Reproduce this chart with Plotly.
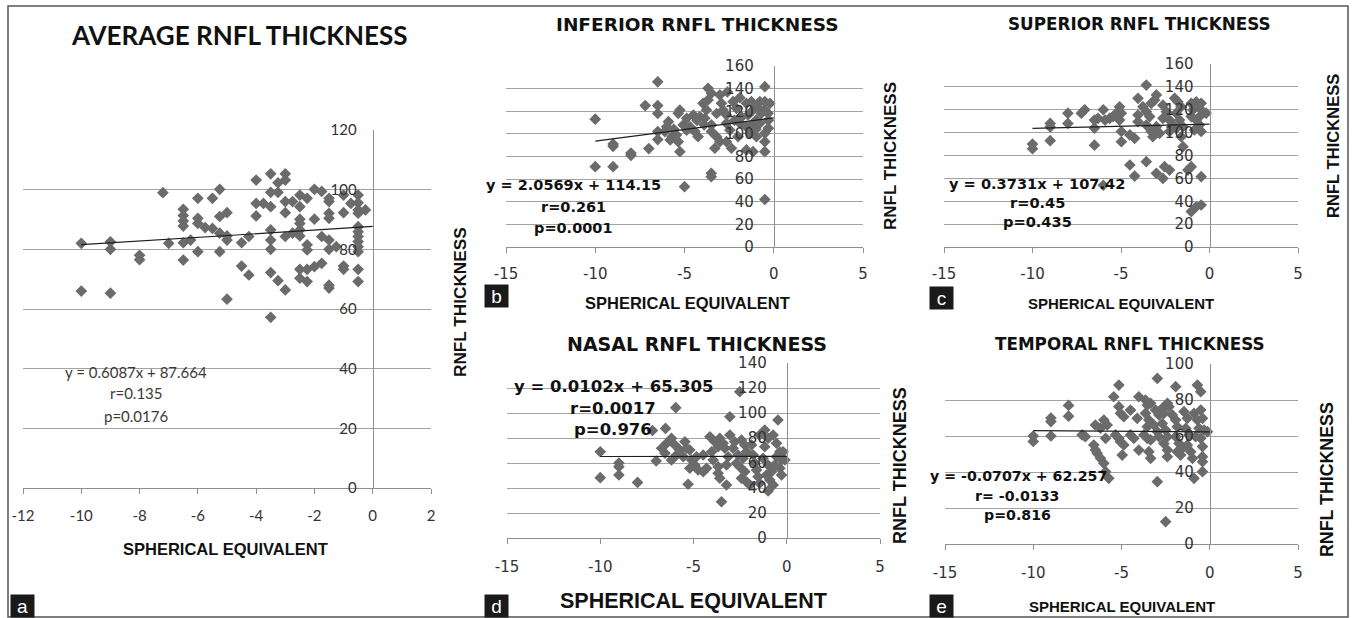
import plotly.graph_objects as go

W, H = 1354, 618

# ---------------- DATA ----------------
avg_pts = [(-10,82),(-10,66),(-9,82.5),(-9,80),(-9,65.3),(-8,78),(-8,76.5),(-7.2,99),(-7,82),
    (-6.5,93.4),(-6.5,91.3),(-6.5,89.5),(-6.5,87.8),(-6.5,82.2),(-6.5,76.4),(-6.25,83.1),
    (-6,97.1),(-6,90.4),(-6,88.7),(-6,79.2),(-5.75,87.3),(-5.5,87),(-5.5,97.1),
    (-5.25,100.1),(-5.25,91),(-5.25,85.4),(-5.25,79.2),(-5,92.3),(-5,84.5),(-5,83.1),(-5,63.3),
    (-4.5,82.2),(-4.25,84.3),(-4.5,74.4),(-4.25,71.4),
    (-4,103.2),(-4,95.4),(-3.75,95.4),(-4,91.2),
    (-3.5,105.3),(-3.5,99.1),(-3.5,94.3),(-3.5,86.5),(-3.5,83.1),(-3.5,80),(-3.5,72.2),(-3.5,57.2),
    (-3.25,69.5),(-3.25,99.1),(-3.25,102.3),
    (-3,66.4),(-3,105.3),(-3,103.2),(-3,96),(-3,92.3),(-3,84.3),
    (-2.75,96),(-2.75,85.4),
    (-2.5,98.2),(-2.5,94.3),(-2.5,90.1),(-2.5,88.7),(-2.5,86.5),(-2.5,84.5),(-2.5,73.3),(-2.5,70.3),
    (-2.25,97.1),(-2.25,73.3),(-2.25,69.2),(-2.25,81.5),(-2.25,79.8),
    (-2,100.1),(-2,90.1),(-2,74.2),
    (-1.75,75.3),(-1.75,99.4),(-1.75,84.3),
    (-1.5,97.1),(-1.5,96),(-1.5,92.1),(-1.5,90.4),(-1.5,83.1),(-1.5,80),(-1.5,68),(-1.5,67),
    (-1.25,80.9),
    (-1,98.2),(-1,92.3),(-1,74.4),(-1,73.3),
    (-0.75,95.4),
    (-0.5,98.2),(-0.5,95.6),(-0.5,93.2),(-0.5,92.1),(-0.5,87.6),(-0.5,85.9),(-0.5,84.3),
    (-0.5,82.6),(-0.5,80.9),(-0.5,79.2),(-0.5,73.3),(-0.5,69.2),
    (-0.25,93.2)]

inf_pts = [(-10,113),(-10,71),(-9,71),(-9,91),(-9,89),(-8,83),(-8,81),(-7.2,125),(-7,87),
    (-6.5,146),(-6.5,125),(-6.5,118),(-6.5,102),(-6.5,95),(-6.1,102),(-6,106.4),(-5.9,110.8),
    (-5.7,97.5),(-5.8,94.6),(-5.35,118.2),(-5.26,121.1),(-5.45,99),(-5.35,93.1),(-5.26,84.3),
    (-5,53.3),(-5.07,107.9),(-4.88,103.4),(-4.7,106.4),(-4.88,113.8),(-4.5,116.7),(-4.42,102),
    (-4.24,97.5),(-4.14,115.2),(-3.86,113.8),(-3.68,140.3),(-3.49,135.9),(-3.68,130),(-3.96,127),
    (-3.77,121.1),(-3.5,65.2),(-3.5,62.2),(-3.3,87.3),(-3.49,107.9),(-3.49,102),(-3.2,97.5),
    (-3.02,93.1),(-3.02,134.4),(-2.93,127),(-2.84,121.1),(-2.65,116.7),(-2.65,109.4),(-2.46,103.4),
    (-2.65,93.1),(-2.28,128.5),(-2.09,122.6),(-1.9,109.4),(-2,97.5),(-2.37,87.3),(-1.53,127),
    (-1.25,128.5),(-1.16,121.1),(-1.44,116.7),(-1.53,106.4),(-1.16,109.4),(-1.34,100.5),
    (-0.97,97.5),(-1.53,85.8),(-1.16,84.3),(-0.78,128.5),(-0.5,128.5),(-0.22,127),(-0.69,118.2),
    (-0.5,121.1),(-0.32,118.2),(-0.5,141.7),(-0.5,100.5),(-0.5,93.1),(-0.5,84.3),(-0.5,42),
    (-0.78,109.4),(-0.97,112.3),(-1.8,115),(-1.0,104),(-0.3,112),(-0.3,105),(-2.2,112),
    (-3.2,118),(-4.3,112),(-5.6,104),(-0.9,124),(-1.9,132),(-2.6,137),(-3.9,108)]

sup_pts = [(-10,90),(-10,86),(-9,108),(-9,105),(-9,93),(-8,117),(-8,108),(-7.24,117),(-7.05,120),
    (-6.5,111),(-6.5,104),(-6.5,89),(-6.3,112.5),(-6,120),(-5.9,111),(-5.64,112.5),(-5.45,114),
    (-5.26,117),(-5.08,122.6),(-4.98,117),(-5.08,111),(-4.98,101),(-4.98,92),(-4.5,98),(-4.23,95),
    (-4.5,71.7),(-4.23,62),(-4.04,130),(-4.04,115.4),(-4.04,109.5),(-3.57,141.6),(-3.57,74.6),
    (-3.76,122.6),(-3.57,118.3),(-3.38,114),(-3.29,125.6),(-3.1,128.5),(-3,133),(-3.57,106.6),
    (-3.29,101),(-3.2,96.4),(-3,105.2),(-2.82,99.4),(-3,64.4),(-2.63,60),(-2.54,70.2),(-2.26,67.3),
    (-2.63,124),(-2.44,118.3),(-2.63,112.5),(-2.26,111),(-2.07,106.6),(-2.26,101),(-1.97,130),
    (-1.79,127),(-1.6,122.6),(-1.88,117),(-1.69,111),(-1.88,103.8),(-1.5,105.2),(-1.6,96.4),
    (-1.5,87.7),(-1.22,67.3),(-1.03,70.2),(-1.03,31),(-0.75,35.2),(-0.47,36.7),(-0.47,61.5),
    (-1.03,125.6),(-0.94,119.8),(-0.75,127),(-0.56,121.2),(-0.47,125.6),(-1.03,114),(-0.75,111),
    (-0.47,115.4),(-0.19,117),(-0.56,106.6),(-0.47,101),(-0.85,102.3),(-6,54)]

nas_pts = [(-10,69),(-10,48.3),(-9,60),(-9,57),(-9,50.4),(-8,44.5),(-7.2,86),(-7,61.6),(-6.5,87.7),
    (-5.95,104.3),(-6.71,71.8),(-6.44,75.8),(-6.53,67.8),(-6.18,79.8),(-6,74.4),(-5.91,66.4),
    (-6.18,62.4),(-5.73,70.4),(-5.46,77),(-5.37,71.8),(-5.55,65),(-5.2,70.4),(-5.1,62.4),
    (-5.2,55.8),(-4.93,58.4),(-5.29,43),(-4.75,54.4),(-4.48,53.1),(-4.3,55.8),(-4.84,65),
    (-4.48,66.4),(-4.12,81),(-3.86,77),(-3.59,79.8),(-3.68,73),(-3.41,75.8),(-4.03,69),
    (-3.95,62.4),(-3.68,57),(-3.68,51.8),(-3.59,47.8),(-3.5,29),(-3.23,42.4),(-3.32,71.8),
    (-3.14,65),(-3.23,58.4),(-3.05,82.4),(-2.79,77),(-2.88,71.8),(-2.61,66.4),(-2.7,59.8),
    (-3.05,97),(-2.52,117),(-2.43,78.4),(-2.25,74.4),(-2.16,69),(-2.34,63.8),(-2.52,57),
    (-2.25,53.1),(-2.43,47.8),(-2.16,45),(-1.98,42.4),(-1.89,74.4),(-1.8,66.4),(-1.71,59.8),
    (-1.62,54.4),(-1.54,49),(-1.45,43.8),(-1.45,82.4),(-1.18,86.4),(-1,79.8),(-1.18,73),
    (-1.27,63.8),(-1,58.4),(-1.09,50.4),(-0.82,53.1),(-0.91,46.4),(-0.73,42.4),(-1,37.6),
    (-0.47,94.4),(-0.73,82.4),(-0.55,75.8),(-0.37,69),(-0.28,62.4),(-0.37,55.8),(-0.28,50.4),
    (-0.55,65),(-0.64,58.4),(-0.2,69),(-0.1,62.4)]

tem_pts = [(-10,60),(-10,57),(-9,70),(-9,68),(-9,60),(-8,77),(-8,71),(-7.23,60.6),(-7.05,59.6),
    (-6.57,55),(-6.48,52.2),(-6.38,50.4),(-6.19,47.6),(-6.48,66.1),(-6.19,64.3),(-6,44.8),
    (-5.9,40.2),(-5.72,36.5),(-6,68.9),(-5.81,66.1),(-5.9,58.7),(-5.44,81.8),(-5.15,88.3),
    (-5.15,76.3),(-5.06,72.6),(-4.87,70.7),(-5.34,60.6),(-5.15,58.7),(-5.06,56.8),(-4.87,55),
    (-4.96,49.4),(-4.49,74.4),(-4.11,69.8),(-4.49,60.6),(-4.3,58.7),(-4.02,52.2),(-4.02,81.8),
    (-3.64,80),(-3.54,77.2),(-3.35,78.2),(-3.64,72.6),(-3.45,68.9),(-3.54,65.2),(-3.73,60.6),
    (-3.54,58.7),(-3.35,57.8),(-3.45,51.3),(-3.35,47.6),(-3.16,66.1),(-2.97,62.4),(-2.88,59.6),
    (-2.97,34.6),(-2.97,92),(-3.07,74.4),(-2.88,71.7),(-2.69,75.4),(-2.6,72.6),(-2.69,67),
    (-2.5,63.3),(-2.4,59.6),(-2.6,55.9),(-2.4,52.2),(-2.4,48.5),(-2.5,12.4),(-2.4,78.2),
    (-2.31,76.3),(-1.93,87.4),(-2.12,71.7),(-1.93,68.9),(-1.84,65.2),(-1.93,59.6),(-1.74,55.9),
    (-1.84,51.3),(-1.65,49.4),(-1.55,53.2),(-1.46,73.5),(-1.27,69.8),(-1.36,64.3),(-1.18,60.6),
    (-1.27,55),(-1.08,51.3),(-0.98,47.6),(-0.89,36.5),(-0.7,88.3),(-0.51,84.6),(-0.89,72.6),
    (-0.7,68.9),(-0.51,74.4),(-0.41,69.8),(-0.61,64.3),(-0.32,63.3),(-0.51,58.7),(-0.8,59.6),
    (-0.41,54.1),(-0.41,48.5),(-0.41,45.7),(-0.41,40.2),(-0.13,62.4)]

# trend lines: slope, intercept, x start, x end
trend_slope = [0.6087, 2.0569, 0.3731, 0.0102, -0.0707]
trend_icpt = [87.664, 114.15, 107.42, 65.305, 62.257]
trend_x0 = [-10, -10, -10, -10, -10]
trend_x1 = [0, 0, 0, 0, 0]

titles = ["AVERAGE RNFL THICKNESS", "INFERIOR RNFL THICKNESS", "SUPERIOR RNFL THICKNESS",
          "NASAL RNFL THICKNESS", "TEMPORAL RNFL THICKNESS"]
eq_text = [["y = 0.6087x + 87.664", "r=0.135", "p=0.0176"],
           ["y = 2.0569x + 114.15", "r=0.261", "p=0.0001"],
           ["y = 0.3731x + 107.42", "r=0.45", "p=0.435"],
           ["y = 0.0102x + 65.305", "r=0.0017", "p=0.976"],
           ["y = -0.0707x + 62.257", "r= -0.0133", "p=0.816"]]
x_ranges = [[-12, 2], [-15, 5], [-15, 5], [-15, 5], [-15, 5]]
x_tickvals_a = [-12, -10, -8, -6, -4, -2, 0, 2]
x_ticktext_a = ["-12", "-10", "-8", "-6", "-4", "-2", "0", "2"]
x_tickvals_b = [-15, -10, -5, 0, 5]
x_ticktext_b = ["-15", "-10", "-5", "0", "5"]
y_tops = [120, 160, 160, 140, 100]
panel_letters = ["a", "b", "c", "d", "e"]
all_pts = [avg_pts, inf_pts, sup_pts, nas_pts, tem_pts]

# ---------------- LAYOUT (pixel geometry) ----------------
plot_px = [  # x0, x1, ytop, ybottom
    (23, 431, 130, 488),
    (506, 863, 66, 247),
    (944, 1298, 64, 247),
    (507, 880, 363, 538),
    (945, 1298, 364, 544),
]
fx = lambda px: px / W
fy = lambda py: 1 - py / H

GRID = "#a3a3a3"
AXL = "#8f8f8f"
MK = "#6b6b6b"
TXT = "#333333"
FA = "Lato, Calibri, sans-serif"
FB = "DejaVu Sans, Verdana, sans-serif"
FH = "Liberation Sans, Arial, sans-serif"

x_standoff = [9, 8, 8, 10, 10]
y_standoff = [13, 17, 13, 17, 13]

fig = go.Figure()
layout = {}
for i in range(5):
    s = "" if i == 0 else str(i + 1)
    x0, x1, yt, yb = plot_px[i]
    xr = x_ranges[i]
    zero_px = x0 + (0 - xr[0]) / (xr[1] - xr[0]) * (x1 - x0)
    pts = all_pts[i]
    fig.add_trace(go.Scatter(
        x=[p[0] for p in pts], y=[p[1] for p in pts], mode="markers",
        marker=dict(symbol="diamond", size=9, color=MK, line=dict(width=0)),
        xaxis="x" + s, yaxis="y" + s, showlegend=False, hoverinfo="x+y"))
    tx = [trend_x0[i], trend_x1[i]]
    fig.add_trace(go.Scatter(
        x=tx, y=[trend_slope[i] * v + trend_icpt[i] for v in tx], mode="lines",
        line=dict(color="#1e1e1e", width=1.2),
        xaxis="x" + s, yaxis="y" + s, showlegend=False, hoverinfo="skip"))
    tf = dict(family=FA, size=15, color=TXT) if i == 0 else dict(family=FB, size=15, color=TXT)
    tv = x_tickvals_a if i == 0 else x_tickvals_b
    tt = x_ticktext_a if i == 0 else x_ticktext_b
    layout["xaxis" + s] = dict(
        domain=[fx(x0), fx(x1)], range=xr, tickmode="array", tickvals=tv, ticktext=tt,
        showgrid=False, zeroline=False, showline=True, linecolor=AXL, linewidth=1,
        ticks="outside", ticklen=5, tickcolor=AXL, tickwidth=1,
        anchor="y" + s, tickfont=tf, ticklabelstandoff=x_standoff[i],
        automargin=False, fixedrange=True)
    layout["yaxis" + s] = dict(
        domain=[fy(yb), fy(yt)], range=[0, y_tops[i]], dtick=20, tick0=0,
        showgrid=True, gridcolor=GRID, gridwidth=1, zeroline=False,
        showline=True, linecolor=AXL, linewidth=1, ticks="",
        anchor="free", position=fx(zero_px), tickfont=tf,
        ticklabelstandoff=y_standoff[i], automargin=False, fixedrange=True)

annotations = []
def ann(text, px, py, size, family, color="#111111", angle=0, xanchor="center"):
    annotations.append(dict(text=text, x=fx(px), y=fy(py), xref="paper", yref="paper",
                            showarrow=False, xanchor=xanchor, yanchor="middle",
                            textangle=angle, font=dict(family=family, size=size, color=color)))

# titles
title_pos = [(239, 35, 26, FA), (697, 24.5, 18.5, FB), (1139, 24.5, 16.8, FB),
             (697, 344, 19, FB), (1130, 344, 16.8, FB)]
for i, (px, py, sz, fam) in enumerate(title_pos):
    ann("<b>" + titles[i] + "</b>", px, py, sz, fam)

# x-axis titles
xt_pos = [(226, 549, 16.5), (687, 303, 16.5), (1121, 303, 15), (693, 601, 21.5), (1122, 606, 15)]
for px, py, sz in xt_pos:
    ann("<b>SPHERICAL EQUIVALENT</b>", px, py, sz, FH)

# vertical y titles
yt_pos = [(460, 302, 17.2), (890, 156, 17), (1334, 146, 16.6), (900, 466, 18), (1327, 480, 17.8)]
for px, py, sz in yt_pos:
    ann("<b>RNFL THICKNESS</b>", px, py, sz, FH, angle=-90)

# equations: (x of line 1, x of lines 2-3, y1, y2, y3, size)
eq_pos = [
    (136, 136, 372, 393, 416, 15),
    (573, 573, 185, 207, 228, 14.5),
    (1037, 1037, 183, 202, 221, 14.6),
    (613, 613, 386, 408, 430, 16.5),
    (1018, 1017, 476, 496, 515, 14.2),
]
for i, (lx, cx, y1, y2, y3, sz) in enumerate(eq_pos):
    fam = FA if i == 0 else FB
    col = "#3a3a3a" if i == 0 else "#111111"
    for t, yy, xx in zip(eq_text[i], (y1, y2, y3), (lx, cx, cx)):
        ann(t if i == 0 else "<b>%s</b>" % t, xx, yy, sz, fam, color=col)

# panel letters
letter_pos = [(22.5, 605.5), (496.5, 295.5), (941.5, 298), (496.5, 605.5), (941.5, 605.5)]
for L, (px, py) in zip(panel_letters, letter_pos):
    annotations.append(dict(text=L, x=fx(px), y=fy(py), xref="paper", yref="paper",
                            showarrow=False, xanchor="center", yanchor="middle",
                            width=19, height=18, bgcolor="#1a1a1a", borderpad=2,
                            font=dict(family=FH, size=19, color="white")))

shapes = [dict(type="rect", xref="paper", yref="paper", x0=fx(8), x1=fx(1348), y0=fy(617), y1=fy(6),
               line=dict(color="#555555", width=1.5))]

fig.update_layout(width=W, height=H, autosize=False,
                  margin=dict(l=0, r=0, t=0, b=0, pad=0, autoexpand=False),
                  paper_bgcolor="white", plot_bgcolor="white", showlegend=False,
                  annotations=annotations, shapes=shapes, **layout)

fig.write_html("out.html", config={"displayModeBar": False, "staticPlot": True},
               post_script="document.body.style.margin='0px';document.body.style.overflow='hidden';")
